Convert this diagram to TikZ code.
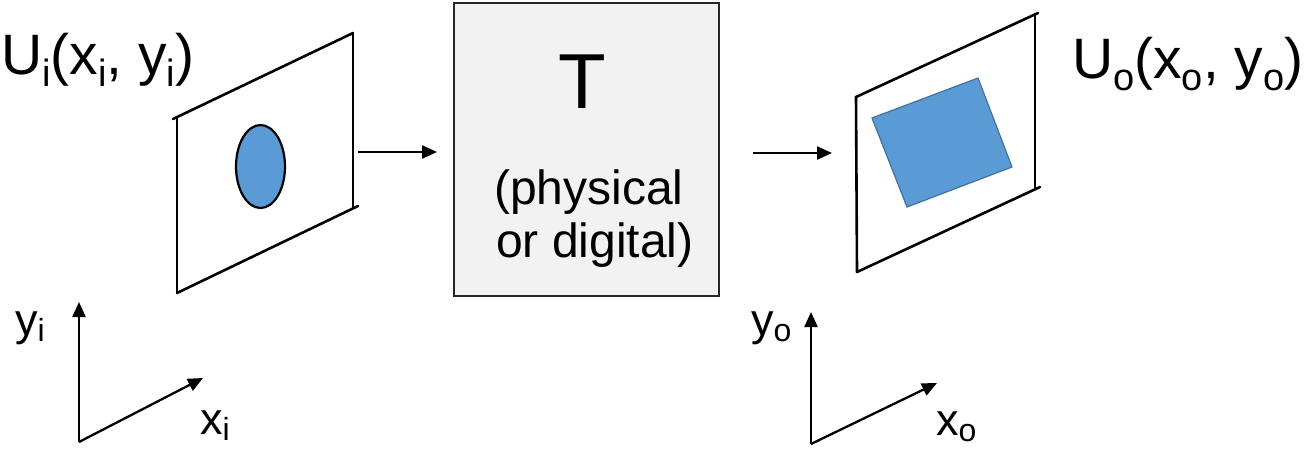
\documentclass[tikz,border=0pt]{standalone}
\usepackage{fontspec}
\setmainfont{Liberation Sans}
\usetikzlibrary{arrows.meta}
\definecolor{blu}{HTML}{5B9BD5}
\definecolor{bluedge}{HTML}{41719C}
\definecolor{boxfill}{HTML}{F2F2F2}
\definecolor{boxedge}{HTML}{262626}
\newcommand\bigsub[1]{\raisebox{-12pt}{\fontsize{38}{38}\selectfont #1}}
\newcommand\axsub[1]{\raisebox{-6pt}{\fontsize{32}{32}\selectfont #1}}
\begin{document}
\begin{tikzpicture}[x=1pt,y=-1pt,
  frame/.style={line width=2.6pt, black, line cap=round},
  arr/.style={line width=2.3pt, -{Triangle[length=15pt,width=13pt]}},
  lbl/.style={inner sep=0pt, anchor=base west},
  biglbl/.style={lbl, font=\fontsize{57}{64}\selectfont},
  axlbl/.style={lbl, font=\fontsize{45}{50}\selectfont}]
\useasboundingbox (0,0) rectangle (1306,448);

% left image plane
\coordinate (L1) at (177,117);
\coordinate (L2) at (353,33);
\coordinate (L3) at (353,208);
\coordinate (L4) at (177,293);
\draw[frame] (173,119) -- (L2);
\draw[frame] (L2) -- (L3);
\draw[frame] (L1) -- (L4);
\draw[frame] (L4) -- (358,206);
\draw[line width=2.2pt, fill=blu] (260.5,166.5) ellipse [x radius=24.5, y radius=41.5];

% right image plane
\coordinate (R1) at (856,97);
\coordinate (R2) at (1035,14);
\coordinate (R3) at (1035,189);
\coordinate (R4) at (857,272);
\draw[frame] (R1) -- (1038,13);
\draw[frame] (R2) -- (R3);
\draw[frame] (R1) -- (R4);
\draw[frame] (R4) -- (1040,187);
\draw[line width=1.2pt, draw=bluedge, fill=blu] (872,118) -- (978,78) -- (1012,167) -- (907,207) -- cycle;

% system box
\node[draw=boxedge, line width=2.2pt, fill=boxfill, minimum width=265pt, minimum height=293pt, inner sep=0pt] (T) at (586.5,149.5) {};
\node[inner sep=0pt, anchor=base, font=\fontsize{78}{80}\selectfont] (Tlbl) at (582,108) {T};
\node[lbl, font=\fontsize{48}{53}\selectfont] (Tl1) at (494,204) {(physical};
\node[lbl, font=\fontsize{48}{53}\selectfont] (Tl2) at (496,257) {or digital)};

% arrows
\coordinate (a1s) at (358,152);
\coordinate (a1e) at (437,152);
\coordinate (a2s) at (753,153);
\coordinate (a2e) at (832,153);
\draw[arr] (a1s) -- (a1e);
\draw[arr] (a2s) -- (a2e);

% labels
\node[biglbl] (Ui) at (1,74) {U\bigsub{i}(x\bigsub{i},  y\bigsub{i})};
\node[biglbl] (Uo) at (1072,78) {U\bigsub{o}(x\bigsub{o}, y\bigsub{o})};

% input axes
\coordinate (Oi) at (79,442);
\coordinate (Yi) at (79,302);
\coordinate (Xi) at (203,378);
\draw[arr] (Oi) -- (Yi);
\draw[arr] (Oi) -- (Xi);
\node[axlbl] (yi) at (15,335) {y\axsub{i}};
\node[axlbl] (xi) at (200,434) {x\axsub{i}};

% output axes
\coordinate (Oo) at (811,444);
\coordinate (Yo) at (811,312);
\coordinate (Xo) at (937,383);
\draw[arr] (Oo) -- (Yo);
\draw[arr] (Oo) -- (Xo);
\node[axlbl] (yo) at (751,335) {y\axsub{o}};
\node[axlbl] (xo) at (936,435) {x\axsub{o}};
\end{tikzpicture}
\end{document}
